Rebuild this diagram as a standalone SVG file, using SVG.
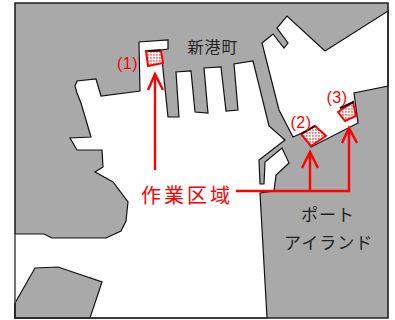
<svg xmlns="http://www.w3.org/2000/svg" width="395" height="320" viewBox="0 0 395 320">
<style>
.sea{fill:#fff;stroke:#111;stroke-width:1.2;stroke-linejoin:miter}
.land{fill:#a9a9a9;stroke:#111;stroke-width:1.2}
.edge{fill:none;stroke:#111;stroke-width:2}
.zone{fill:url(#hatch);stroke:#f00;stroke-width:2}
.arrow{fill:none;stroke:#f00;stroke-width:2.4}
.lbl{font-family:"Noto Sans CJK JP","Noto Sans",sans-serif;font-size:17px;fill:#222;letter-spacing:1px}
.no{font-family:"Liberation Sans",sans-serif;font-size:16px;fill:#f00;text-anchor:middle;letter-spacing:.5px}
</style>
<defs>
<pattern id="hatch" width="3" height="3" patternUnits="userSpaceOnUse">
<rect width="3" height="3" fill="#fff"/>
<rect width="1.800" height="1.800" fill="#f77"/>
</pattern>
</defs>
<rect x="0" y="0" width="395" height="320" fill="#fff"/>
<rect x="15" y="3" width="373" height="315" fill="#a9a9a9"/>
<path class="sea" d="M15 234L44 234L52 238L106 238L121 231L126 221L128 202L113 182L95 172L103 167L102 150L77 150L70 138L91 137L81 103L77 93L75 86L77 81L96 79L101 96L140 91L139 42L168 40L168 49L161 50L168 117L179 117L176 72L191 71L195 112L208 113L204 68L221 67L226 111L238 110L234 64L253 61L269 126L285 140L259 160L260 184L264 184L265 162L282 148L289 163L276 175L274 191L260 193L267 318L15 318Z"/>
<path class="sea" d="M262 43L273 34L284 48L288 43L277 28L287 16L325 51L388 11L388 86L354 93L358 123L311 147L302 133L293 137L279 110Z"/>
<path class="land" d="M15 303L35 268L58 267L102 282L90 318L15 318Z"/>
<path class="zone" d="M146 51L148 66L163 63L161 51Z"/>
<path class="zone" d="M301 134L315 126L326 136L311 146Z"/>
<path class="zone" d="M338 112L353 102L356 116L345 121Z"/>
<path class="edge" d="M148 51L161 50M301 134L315 126M340 108L354 102"/>
<path d="M15 234V3H388V318H15V303" fill="none" stroke="#222" stroke-width="1.6"/>
<path d="M15 234V303" fill="none" stroke="#777" stroke-width="1"/>
<g id="connectors">
<path class="arrow" d="M155 170V74M148 90L155 74L163 90"/>
<path class="arrow" d="M236 191H349V128M342 143L349 128L357 143"/>
<path class="arrow" d="M310 191V152M302 168L310 152L318 168"/>
</g>
<text class="lbl" x="187.500" y="53" style="font-size:16px">新港町</text>
<text class="lbl" x="301" y="221">ポート</text>
<text class="lbl" x="284" y="249">アイランド</text>
<text x="141" y="203" style="font-family:'Noto Sans CJK JP','Noto Sans',sans-serif;font-size:20px;fill:#f00;letter-spacing:3px">作業区域</text>
<text class="no" x="127.500" y="69">(1)</text>
<text class="no" x="301" y="128">(2)</text>
<text class="no" x="337" y="103">(3)</text>
</svg>
